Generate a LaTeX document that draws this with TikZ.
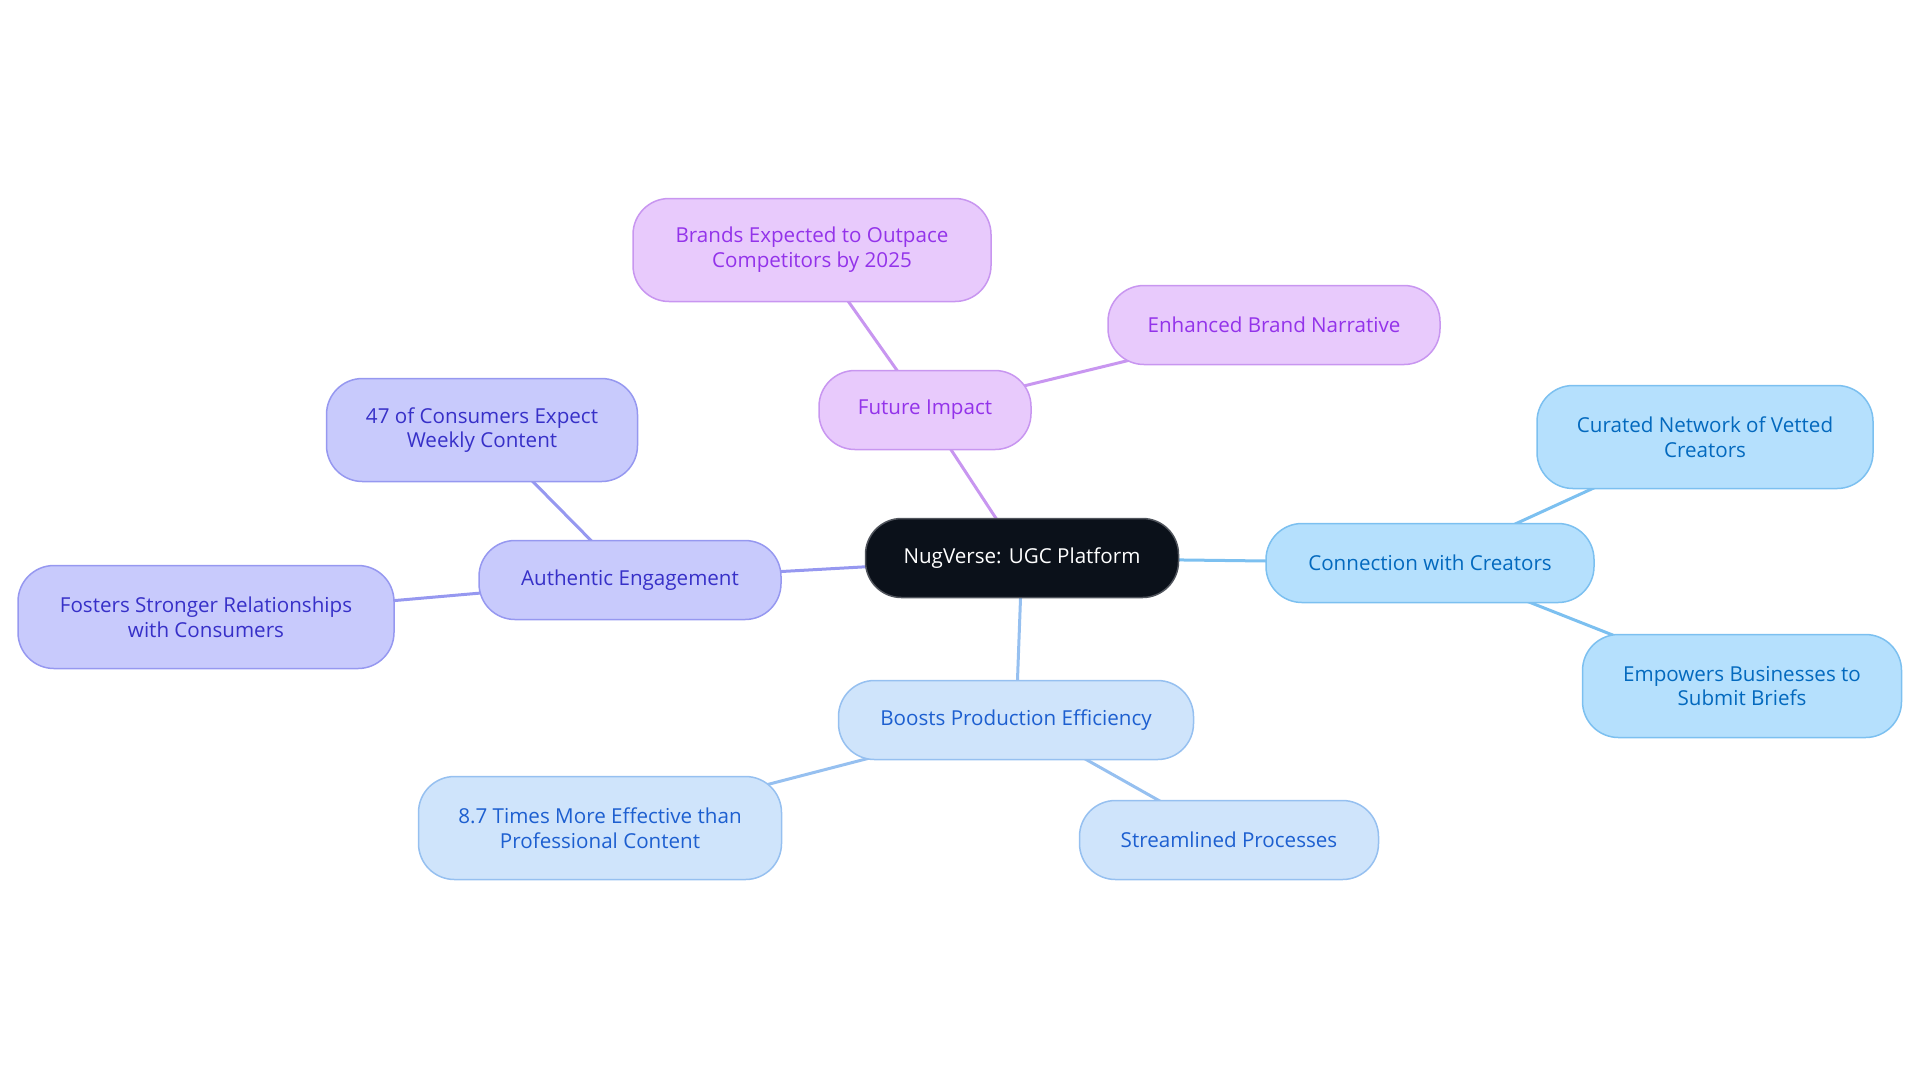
\documentclass[tikz,border=0pt]{standalone}
\usepackage{fontspec}
\setmainfont{Open Sans}
\usetikzlibrary{backgrounds}

\begin{document}
\begin{tikzpicture}[x=0.5pt,y=-0.5pt,line width=0.4pt]
\definecolor{hubfill}{RGB}{11,17,26}
\definecolor{hubline}{RGB}{80,84,92}
\definecolor{futfill}{RGB}{232,202,252}
\definecolor{futline}{RGB}{200,150,240}
\definecolor{futtext}{RGB}{147,51,234}
\definecolor{engfill}{RGB}{200,202,252}
\definecolor{engline}{RGB}{150,152,240}
\definecolor{engtext}{RGB}{55,48,200}
\definecolor{crefill}{RGB}{181,224,253}
\definecolor{creline}{RGB}{124,192,240}
\definecolor{cretext}{RGB}{3,105,190}
\definecolor{efffill}{RGB}{207,228,251}
\definecolor{effline}{RGB}{150,192,240}
\definecolor{efftext}{RGB}{29,95,208}
\providecommand{\fmap}{\fontsize{10.3}{12.4}\selectfont}
\tikzset{box/.style={rounded corners=18pt,line width=0.75pt,align=center,inner sep=0pt,font=\fmap,minimum height=39.5pt},tall/.style={minimum height=51.5pt},hub/.style={box,fill=hubfill,draw=hubline,text=white},futbox/.style={box,fill=futfill,draw=futline,text=futtext},engbox/.style={box,fill=engfill,draw=engline,text=engtext},crebox/.style={box,fill=crefill,draw=creline,text=cretext},effbox/.style={box,fill=efffill,draw=effline,text=efftext},link/.style={line width=1.5pt}}
\useasboundingbox (0,0) rectangle (1920,1083);
\node[hub,minimum width=156.5pt] (ctr) at (1022,558) {NugVerse: UGC Platform};
\node[futbox,minimum width=106pt] (future) at (925,410) {Future Impact};
\node[futbox,tall,minimum width=179pt] (brands) at (812,250) {Brands Expected to Outpace\\Competitors by 2025};
\node[futbox,minimum width=166pt] (narrative) at (1274,325) {Enhanced Brand Narrative};
\node[engbox,minimum width=151pt] (authentic) at (630,580) {Authentic Engagement};
\node[engbox,tall,minimum width=155.5pt] (consumers) at (482,430) {47 of Consumers Expect\\Weekly Content};
\node[engbox,tall,minimum width=188pt] (fosters) at (206,617) {Fosters Stronger Relationships\\with Consumers};
\node[crebox,minimum width=164pt] (connect) at (1430,563) {Connection with Creators};
\node[crebox,tall,minimum width=168pt] (curated) at (1705,437) {Curated Network of Vetted\\Creators};
\node[crebox,tall,minimum width=159.5pt] (empowers) at (1742,686) {Empowers Businesses to\\Submit Briefs};
\node[effbox,minimum width=177.5pt] (boosts) at (1016,720) {Boosts Production Efficiency};
\node[effbox,tall,minimum width=181.5pt] (effective) at (600,828) {8.7 Times More Effective than\\Professional Content};
\node[effbox,minimum width=149.5pt] (streamlined) at (1229,840) {Streamlined Processes};
\begin{pgfonlayer}{background}
\draw[link,futline] (ctr.center) -- (future.center);
\draw[link,futline] (future.center) -- (brands.center);
\draw[link,futline] (future.center) -- (narrative.center);
\draw[link,engline] (ctr.center) -- (authentic.center);
\draw[link,engline] (authentic.center) -- (consumers.center);
\draw[link,engline] (authentic.center) -- (fosters.center);
\draw[link,creline] (ctr.center) -- (connect.center);
\draw[link,creline] (connect.center) -- (curated.center);
\draw[link,creline] (connect.center) -- (empowers.center);
\draw[link,effline] (ctr.center) -- (boosts.center);
\draw[link,effline] (boosts.center) -- (effective.center);
\draw[link,effline] (boosts.center) -- (streamlined.center);
\end{pgfonlayer}
\end{tikzpicture}
\end{document}
